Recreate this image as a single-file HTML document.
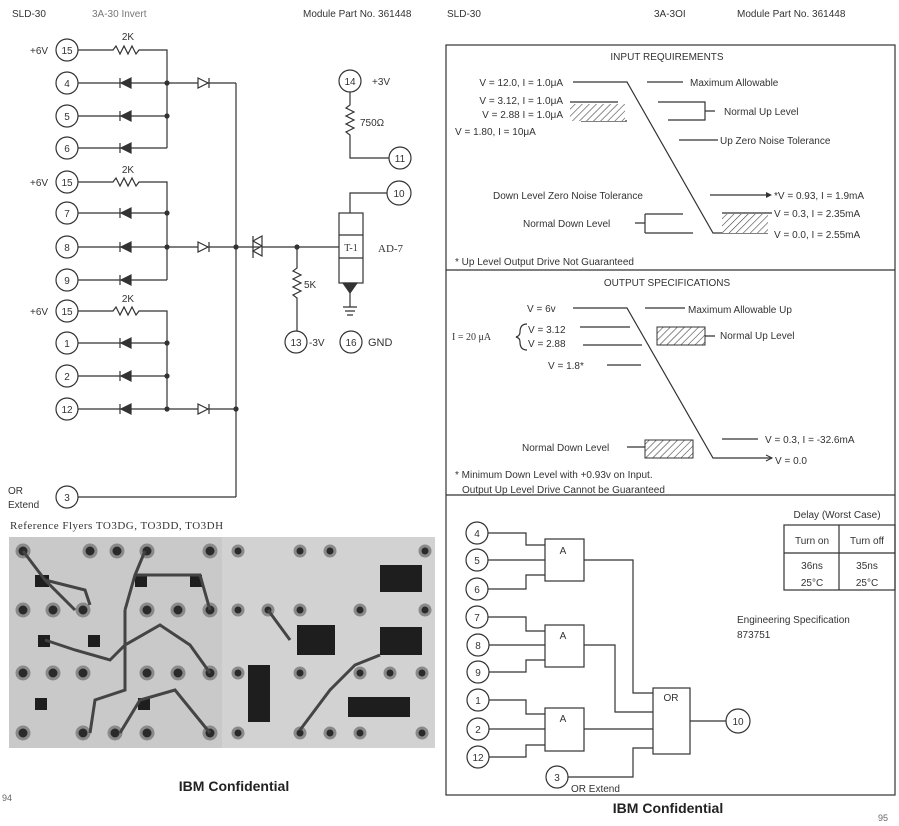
<!DOCTYPE html>
<html><head><meta charset="utf-8"><style>
html,body{margin:0;padding:0;background:#fff;}
svg{display:block;}
text{font-family:"Liberation Sans",sans-serif;font-size:10px;fill:#333;}
.s{font-family:"Liberation Serif",serif;}
.b{font-weight:bold;font-size:14px;fill:#222;}
</style></head><body>
<svg width="899" height="826" viewBox="0 0 899 826" xmlns="http://www.w3.org/2000/svg">
<defs>
<pattern id="h" width="5" height="5" patternUnits="userSpaceOnUse" patternTransform="rotate(45)">
<rect width="5" height="5" fill="#fff"/><line x1="0" y1="0" x2="0" y2="5" stroke="#444" stroke-width="1.2"/>
</pattern>
</defs>
<g fill="none" stroke="#333" stroke-width="1.2">
<!-- LEFT SCHEMATIC -->
<circle cx="67" cy="50" r="11"/><circle cx="67" cy="83" r="11"/><circle cx="67" cy="116" r="11"/><circle cx="67" cy="148" r="11"/>
<circle cx="67" cy="182" r="11"/><circle cx="67" cy="213" r="11"/><circle cx="67" cy="247" r="11"/><circle cx="67" cy="280" r="11"/>
<circle cx="67" cy="311" r="11"/><circle cx="67" cy="343" r="11"/><circle cx="67" cy="376" r="11"/><circle cx="67" cy="409" r="11"/>
<circle cx="67" cy="497" r="11"/>
<!-- resistors 2K -->
<path d="M78 50H113l3-4 4 8 4-8 4 8 4-8 4 8 3-4H167V148"/>
<path d="M78 182H113l3-4 4 8 4-8 4 8 4-8 4 8 3-4H167V280"/>
<path d="M78 311H113l3-4 4 8 4-8 4 8 4-8 4 8 3-4H167V409"/>
<!-- input rows -->
<path d="M78 83H167M78 116H167M78 148H167M78 213H167M78 247H167M78 280H167M78 343H167M78 376H167M78 409H167"/>
<path d="M167 83H236M167 247H236M167 409H236M236 83V497M78 497H236"/>
<path d="M236 247H340"/>
<!-- T-1 -->
<rect x="339" y="213" width="24" height="70" fill="#fff"/>
<path d="M339 235H363M339 258H363"/>
<path d="M350 213V193H387"/><circle cx="399" cy="193" r="12"/>
<circle cx="350" cy="81" r="11"/>
<path d="M350 92V105l-4 3 8 4-8 4 8 4-8 4 8 4-8 4 4 3V158H389"/><circle cx="400" cy="158" r="11"/>
<path d="M350 293V307M343 307H357M345 311H355M347 315H353"/>
<path d="M297 247V268l-4 3 8 4-8 4 8 4-8 4 8 4-8 4 4 3V331"/>
<circle cx="296" cy="342" r="11"/><circle cx="351" cy="342" r="11"/>
</g>
<g fill="#333" stroke="#333" stroke-width="1.2">
<!-- left-pointing diodes -->
<path d="M120 78V88M131 78L121 83L131 88Z"/><path d="M120 111V121M131 111L121 116L131 121Z"/><path d="M120 143V153M131 143L121 148L131 153Z"/>
<path d="M120 208V218M131 208L121 213L131 218Z"/><path d="M120 242V252M131 242L121 247L131 252Z"/><path d="M120 275V285M131 275L121 280L131 285Z"/>
<path d="M120 338V348M131 338L121 343L131 348Z"/><path d="M120 371V381M131 371L121 376L131 381Z"/><path d="M120 404V414M131 404L121 409L131 414Z"/>
<!-- right-pointing diodes -->
<path d="M209 78V88M198 78L208 83L198 88Z" fill="#fff"/><path d="M209 242V252M198 242L208 247L198 252Z" fill="#fff"/><path d="M209 404V414M198 404L208 409L198 414Z" fill="#fff"/>
<path d="M253 236V258M262 236L253 241L262 246ZM262 246L253 251L262 256Z" fill="#fff"/>
<path d="M343 283H357L350 293Z"/>
<circle cx="167" cy="83" r="2"/><circle cx="167" cy="116" r="2"/><circle cx="167" cy="213" r="2"/><circle cx="167" cy="247" r="2"/>
<circle cx="167" cy="343" r="2"/><circle cx="167" cy="376" r="2"/><circle cx="167" cy="409" r="2"/>
<circle cx="236" cy="247" r="2"/><circle cx="236" cy="409" r="2"/><circle cx="297" cy="247" r="2"/>
</g>
<g text-anchor="middle">
<text x="67" y="54">15</text><text x="67" y="87">4</text><text x="67" y="120">5</text><text x="67" y="152">6</text>
<text x="67" y="186">15</text><text x="67" y="217">7</text><text x="67" y="251">8</text><text x="67" y="284">9</text>
<text x="67" y="315">15</text><text x="67" y="347">1</text><text x="67" y="380">2</text><text x="67" y="413">12</text>
<text x="67" y="501">3</text>
<text x="128" y="40">2K</text><text x="128" y="173">2K</text><text x="128" y="302">2K</text>
<text x="350" y="85">14</text><text x="400" y="162">11</text><text x="399" y="197">10</text>
<text x="296" y="346">13</text><text x="351" y="346">16</text>
<text x="351" y="251" class="s">T-1</text>
</g>
<text x="30" y="54">+6V</text><text x="30" y="186">+6V</text><text x="30" y="315">+6V</text>
<text x="372" y="85">+3V</text><text x="360" y="126">750Ω</text><text x="378" y="252" class="s" style="font-size:11px">AD-7</text>
<text x="304" y="288">5K</text><text x="309" y="346">-3V</text><text x="368" y="346" style="font-size:11px">GND</text>
<text x="8" y="494">OR</text><text x="8" y="508">Extend</text>
<text x="10" y="529" class="s" style="font-size:11px;letter-spacing:.5px">Reference Flyers  TO3DG, TO3DD, TO3DH</text>
<text x="12" y="17">SLD-30</text><text x="92" y="17" style="fill:#777">3A-30 Invert</text><text x="303" y="17">Module Part No. 361448</text>
<!-- photo -->
<rect x="9" y="537" width="426" height="211" fill="#c9c9c9"/>
<rect x="222" y="537" width="213" height="211" fill="#d2d2d2"/>
<g fill="#2a2a2a" stroke="#8a8a8a" stroke-width="3">
<circle cx="23" cy="551" r="6"/><circle cx="90" cy="551" r="6"/><circle cx="117" cy="551" r="6"/><circle cx="147" cy="551" r="6"/><circle cx="210" cy="551" r="6"/>
<circle cx="23" cy="610" r="6"/><circle cx="53" cy="610" r="6"/><circle cx="83" cy="610" r="6"/><circle cx="147" cy="610" r="6"/><circle cx="178" cy="610" r="6"/><circle cx="210" cy="610" r="6"/>
<circle cx="23" cy="673" r="6"/><circle cx="53" cy="673" r="6"/><circle cx="83" cy="673" r="6"/><circle cx="147" cy="673" r="6"/><circle cx="178" cy="673" r="6"/><circle cx="210" cy="673" r="6"/>
<circle cx="23" cy="733" r="6"/><circle cx="83" cy="733" r="6"/><circle cx="115" cy="733" r="6"/><circle cx="147" cy="733" r="6"/><circle cx="210" cy="733" r="6"/>
<circle cx="238" cy="551" r="5"/><circle cx="300" cy="551" r="5"/><circle cx="330" cy="551" r="5"/><circle cx="425" cy="551" r="5"/>
<circle cx="238" cy="610" r="5"/><circle cx="268" cy="610" r="5"/><circle cx="300" cy="610" r="5"/><circle cx="360" cy="610" r="5"/><circle cx="425" cy="610" r="5"/>
<circle cx="238" cy="673" r="5"/><circle cx="300" cy="673" r="5"/><circle cx="360" cy="673" r="5"/><circle cx="390" cy="673" r="5"/><circle cx="422" cy="673" r="5"/>
<circle cx="238" cy="733" r="5"/><circle cx="300" cy="733" r="5"/><circle cx="330" cy="733" r="5"/><circle cx="360" cy="733" r="5"/><circle cx="422" cy="733" r="5"/>
</g>
<g fill="#1e1e1e">
<rect x="380" y="565" width="42" height="27"/><rect x="297" y="625" width="38" height="30"/><rect x="380" y="627" width="42" height="28"/>
<rect x="248" y="665" width="22" height="57"/><rect x="348" y="697" width="62" height="20"/>
<rect x="35" y="575" width="14" height="12"/><rect x="135" y="575" width="12" height="12"/><rect x="190" y="575" width="12" height="12"/>
<rect x="38" y="635" width="12" height="12"/><rect x="88" y="635" width="12" height="12"/><rect x="35" y="698" width="12" height="12"/><rect x="138" y="698" width="12" height="12"/>
</g>
<g fill="none" stroke="#444" stroke-width="3">
<path d="M23 551L45 580L75 610M45 580L85 590L90 605M45 640L75 650L110 660L125 645L160 625L190 645L210 673"/>
<path d="M125 610V690L95 700L90 733M125 610L135 575L145 551M135 575H200L210 610"/>
<path d="M210 733L175 690L140 700L120 733M300 730L330 690L355 665L380 655M268 610L290 640"/>
</g>
<text x="234" y="791" text-anchor="middle" class="b">IBM Confidential</text>
<text x="2" y="801" style="font-size:9px;fill:#666">94</text>

<!-- RIGHT PAGE -->
<text x="447" y="17">SLD-30</text><text x="654" y="17">3A-3OI</text><text x="737" y="17">Module Part No.  361448</text>
<g fill="none" stroke="#333" stroke-width="1.2">
<rect x="446" y="45" width="449" height="750"/>
<path d="M446 270H895M446 495H895"/>
<!-- input -->
<path d="M573 82H627L713 233H768M647 82H683M658 102H705V120H668M705 111H715M679 140H718M710 195H770M645 214V233M635 223H645M645 214H683M645 233H693"/>
<path d="M570 102H618M581 121H627"/>
<path d="M722 213H772"/>
<!-- output -->
<path d="M573 308H627L713 458H772M580 327H630M583 345H642M607 365H641M645 308H685M705 336H715M722 439H758M627 447H645"/>
<path d="M527 324Q520 324 520 332Q520 336 516 337Q520 338 520 342Q520 350 527 350"/>
</g>
<rect x="570" y="104" width="55" height="17" fill="url(#h)"/>
<rect x="722" y="214" width="46" height="19" fill="url(#h)"/>
<rect x="657" y="327" width="48" height="18" fill="url(#h)" stroke="#333"/>
<rect x="645" y="440" width="48" height="18" fill="url(#h)" stroke="#333"/>
<path d="M766 192L772 195L766 198Z" fill="#333"/>
<g style="font-size:10px">
<text x="667" y="60" text-anchor="middle">INPUT REQUIREMENTS</text>
<text x="563" y="86" text-anchor="end">V = 12.0, I = 1.0μA</text>
<text x="563" y="104" text-anchor="end">V = 3.12, I = 1.0μA</text>
<text x="563" y="118" text-anchor="end">V = 2.88 I = 1.0μA</text>
<text x="455" y="135">V = 1.80, I = 10μA</text>
<text x="690" y="86">Maximum Allowable</text>
<text x="724" y="115">Normal Up Level</text>
<text x="720" y="144">Up Zero Noise Tolerance</text>
<text x="493" y="199">Down Level Zero Noise Tolerance</text>
<text x="774" y="199">*V = 0.93, I = 1.9mA</text>
<text x="774" y="217">V = 0.3, I = 2.35mA</text>
<text x="774" y="238">V = 0.0, I = 2.55mA</text>
<text x="523" y="227">Normal Down Level</text>
<text x="455" y="265">* Up Level Output Drive Not Guaranteed</text>
<text x="667" y="286" text-anchor="middle">OUTPUT SPECIFICATIONS</text>
<text x="527" y="312">V = 6v</text>
<text x="528" y="333">V = 3.12</text>
<text x="528" y="347">V = 2.88</text>
<text x="452" y="340" class="s">I = 20 μA</text>
<text x="548" y="369">V = 1.8*</text>
<text x="688" y="313">Maximum Allowable Up</text>
<text x="720" y="339">Normal Up Level</text>
<text x="765" y="443">V = 0.3, I = -32.6mA</text>
<text x="775" y="464">V = 0.0</text>
<text x="522" y="451">Normal Down Level</text>
<text x="455" y="478">* Minimum Down Level with +0.93v on Input.</text>
<text x="462" y="493">Output Up Level Drive Cannot be Guaranteed</text>
</g>
<path d="M713 458H770M766 455L772 458L766 461" fill="none" stroke="#333"/>
<!-- logic -->
<g fill="none" stroke="#333" stroke-width="1.2">
<circle cx="477" cy="533" r="11"/><circle cx="477" cy="560" r="11"/><circle cx="477" cy="589" r="11"/>
<circle cx="477" cy="617" r="11"/><circle cx="478" cy="645" r="11"/><circle cx="478" cy="672" r="11"/>
<circle cx="478" cy="700" r="11"/><circle cx="478" cy="729" r="11"/><circle cx="478" cy="757" r="11"/>
<circle cx="557" cy="777" r="11"/><circle cx="738" cy="721" r="12"/>
<rect x="545" y="539" width="39" height="42"/><rect x="545" y="625" width="39" height="42"/><rect x="545" y="708" width="39" height="43"/>
<rect x="653" y="688" width="37" height="66"/>
<path d="M488 533H526V545H545M488 560H545M488 589H526V575H545"/>
<path d="M488 617H526V631H545M489 645H545M489 672H526V660H545"/>
<path d="M489 700H526V714H545M489 729H545M489 757H526V745H545"/>
<path d="M584 560H633V693H653M584 645H615V712H653M584 729H653M568 777H633V748H653M690 721H726"/>
<rect x="784" y="525" width="111" height="65"/><path d="M839 525V590M784 553H895"/>
</g>
<g text-anchor="middle">
<text x="477" y="537">4</text><text x="477" y="564">5</text><text x="477" y="593">6</text>
<text x="477" y="621">7</text><text x="478" y="649">8</text><text x="478" y="676">9</text>
<text x="478" y="704">1</text><text x="478" y="733">2</text><text x="478" y="761">12</text>
<text x="557" y="781">3</text><text x="738" y="725">10</text>
<text x="563" y="554">A</text><text x="563" y="639">A</text><text x="563" y="722">A</text><text x="671" y="701">OR</text>
<text x="837" y="518">Delay (Worst Case)</text>
<text x="812" y="544">Turn on</text><text x="867" y="544">Turn off</text>
<text x="812" y="569">36ns</text><text x="867" y="569">35ns</text>
<text x="812" y="586">25°C</text><text x="867" y="586">25°C</text>
</g>
<text x="571" y="792">OR Extend</text>
<text x="737" y="623">Engineering Specification</text><text x="737" y="638">873751</text>
<text x="668" y="813" text-anchor="middle" class="b">IBM Confidential</text>
<text x="878" y="821" style="font-size:9px;fill:#666">95</text>
</svg>
</body></html>
